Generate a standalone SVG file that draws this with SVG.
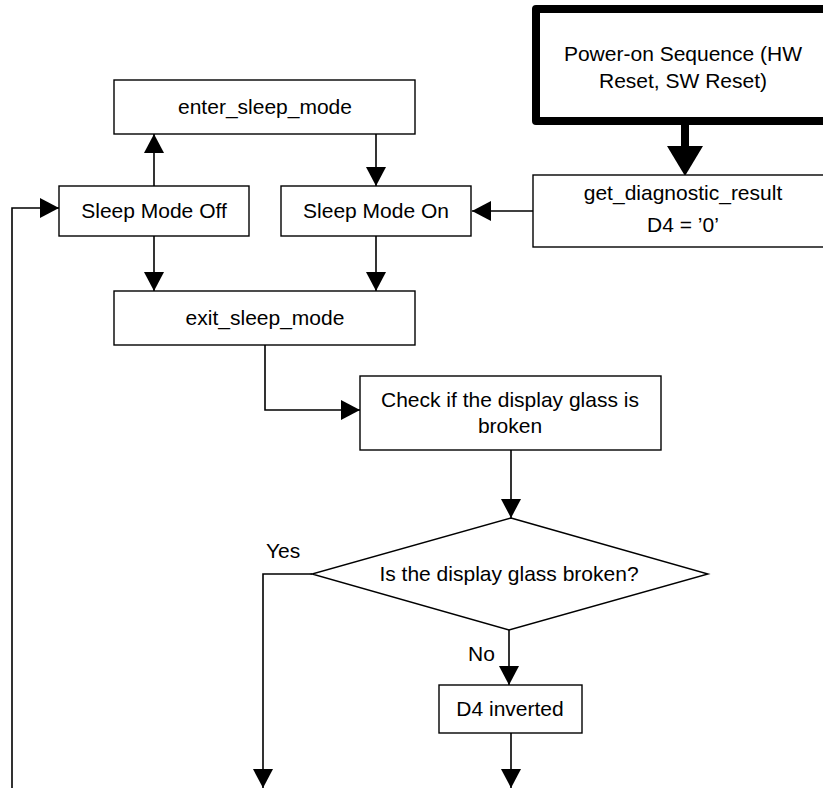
<svg xmlns="http://www.w3.org/2000/svg" width="823" height="788" viewBox="0 0 823 788">
  <style>
    .box { fill: #ffffff; stroke: #000000; stroke-width: 1.4; }
    .thick { fill: #ffffff; stroke: #000000; stroke-width: 8; stroke-linejoin: round; }
    .lbl { font-family: "Liberation Sans", Arial, sans-serif; font-size: 21px; fill: #000000; text-anchor: middle; }
    .plain { font-family: "Liberation Sans", Arial, sans-serif; font-size: 21px; fill: #000000; }
    .wire { fill: none; stroke: #000000; stroke-width: 1.6; }
    .wire-bold { fill: none; stroke: #000000; stroke-width: 8; }
  </style>
  <defs>
    <marker id="arrow" markerUnits="userSpaceOnUse" markerWidth="20" markerHeight="20" viewBox="0 0 19 20" refX="19" refY="10" orient="auto">
      <path d="M0,0 L19,10 L0,20 Z" fill="#000000"/>
    </marker>
    <marker id="arrow-bold" markerUnits="userSpaceOnUse" markerWidth="30" markerHeight="36" viewBox="0 0 30 36" refX="30" refY="18" orient="auto">
      <path d="M0,0 L30,18 L0,36 Z" fill="#000000"/>
    </marker>
  </defs>

  <!-- connectors -->
  <g id="connectors">
    <path class="wire-bold" d="M685,125 L685,150"/>
    <path d="M667,146 L703,146 L685,176 Z" fill="#000000"/>
    <path class="wire" marker-end="url(#arrow)" d="M533,211 L472,211"/>
    <path class="wire" marker-end="url(#arrow)" d="M154,186 L154,134"/>
    <path class="wire" marker-end="url(#arrow)" d="M376,134 L376,186"/>
    <path class="wire" marker-end="url(#arrow)" d="M154,236 L154,291"/>
    <path class="wire" marker-end="url(#arrow)" d="M376,236 L376,291"/>
    <path class="wire" marker-end="url(#arrow)" d="M265,345 L265,410 L360,410"/>
    <path class="wire" marker-end="url(#arrow)" d="M511,450 L511,518"/>
    <path class="wire" marker-end="url(#arrow)" d="M312,574 L263,574 L263,788"/>
    <path class="wire" marker-end="url(#arrow)" d="M509,630 L509,685"/>
    <path class="wire" marker-end="url(#arrow)" d="M511,733 L511,788"/>
    <path class="wire" marker-end="url(#arrow)" d="M12,788 L12,208 L59,208"/>
  </g>

  <g id="power-on">
    <rect class="thick" x="536" y="9" width="300" height="112"/>
    <text class="lbl" x="683" y="61">Power-on Sequence (HW</text>
    <text class="lbl" x="683" y="88">Reset, SW Reset)</text>
  </g>

  <g id="get-diagnostic">
    <rect class="box" x="533" y="175" width="300" height="72"/>
    <text class="lbl" x="683" y="200">get_diagnostic_result</text>
    <text class="lbl" x="683" y="232">D4 = ’0’</text>
  </g>

  <g id="enter-sleep">
    <rect class="box" x="114" y="80" width="301" height="54"/>
    <text class="lbl" x="265" y="114">enter_sleep_mode</text>
  </g>

  <g id="sleep-off">
    <rect class="box" x="59" y="186" width="190" height="50"/>
    <text class="lbl" x="154" y="218">Sleep Mode Off</text>
  </g>

  <g id="sleep-on">
    <rect class="box" x="281" y="186" width="190" height="50"/>
    <text class="lbl" x="376" y="218">Sleep Mode On</text>
  </g>

  <g id="exit-sleep">
    <rect class="box" x="114" y="291" width="301" height="54"/>
    <text class="lbl" x="265" y="325">exit_sleep_mode</text>
  </g>

  <g id="check-glass">
    <rect class="box" x="360" y="376" width="301" height="74"/>
    <text class="lbl" x="510" y="407">Check if the display glass is</text>
    <text class="lbl" x="510" y="433">broken</text>
  </g>

  <g id="glass-decision">
    <polygon class="box" points="511,518 708,574 509,630 312,574"/>
    <text class="lbl" x="509" y="581">Is the display glass broken?</text>
  </g>

  <g id="branch-labels">
    <text class="plain" x="266" y="558">Yes</text>
    <text class="plain" x="468" y="661">No</text>
  </g>

  <g id="d4-inverted">
    <rect class="box" x="439" y="685" width="143" height="48"/>
    <text class="lbl" x="510" y="716">D4 inverted</text>
  </g>
</svg>
